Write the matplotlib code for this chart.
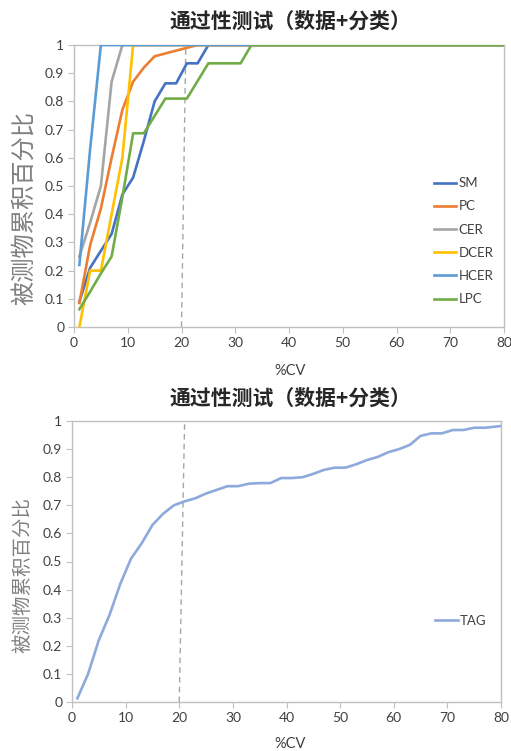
import matplotlib
matplotlib.use("Agg")
import matplotlib.pyplot as plt
import numpy as np

plt.rcParams['font.family'] = ['Lato', 'Noto Sans CJK SC', 'DejaVu Sans']

title = "通过性测试（数据+分类）"
ylabel = "被测物累积百分比"
xlabel = "%CV"

sm_x = [1, 3, 7, 9, 11, 13, 15, 17, 19, 21, 23, 25, 80]
sm_y = [0.09, 0.21, 0.33, 0.47, 0.53, 0.66, 0.80, 0.864, 0.864, 0.935, 0.935, 1.0, 1.0]

pc_x = [1, 3, 5, 7, 9, 11, 13, 15, 17, 19, 21, 23, 80]
pc_y = [0.085, 0.29, 0.42, 0.60, 0.77, 0.87, 0.92, 0.96, 0.97, 0.98, 0.99, 1.0, 1.0]

cer_x = [1, 3, 5, 7, 9, 80]
cer_y = [0.25, 0.37, 0.50, 0.87, 1.0, 1.0]

dcer_x = [1, 3, 5, 9, 11, 80]
dcer_y = [0.0, 0.2, 0.2, 0.6, 1.0, 1.0]

hcer_x = [1, 3, 5, 80]
hcer_y = [0.22, 0.63, 1.0, 1.0]

lpc_x = [1, 3, 5, 7, 9, 11, 13, 17, 21, 25, 31, 33, 80]
lpc_y = [0.063, 0.125, 0.19, 0.25, 0.46, 0.687, 0.687, 0.81, 0.81, 0.935, 0.935, 1.0, 1.0]

tag_x = [1, 3, 5, 7, 9, 11, 13, 15, 17, 19, 21, 23, 25, 27, 29, 31, 33, 35, 37, 39,
         41, 43, 45, 47, 49, 51, 53, 55, 57, 59, 61, 63, 65, 67, 69, 71, 73, 75, 77, 79, 80]
tag_y = [0.013, 0.10, 0.22, 0.31, 0.42, 0.51, 0.565, 0.63, 0.67, 0.70, 0.714, 0.725, 0.742,
         0.755, 0.768, 0.768, 0.777, 0.779, 0.779, 0.797, 0.797, 0.80, 0.812, 0.826, 0.834,
         0.834, 0.846, 0.861, 0.872, 0.889, 0.90, 0.915, 0.947, 0.956, 0.956, 0.968, 0.968,
         0.976, 0.976, 0.98, 0.982]

top_series = [
    ("SM", sm_x, sm_y, "#4472C4"),
    ("PC", pc_x, pc_y, "#ED7D31"),
    ("CER", cer_x, cer_y, "#A5A5A5"),
    ("DCER", dcer_x, dcer_y, "#FFC000"),
    ("HCER", hcer_x, hcer_y, "#5B9BD5"),
    ("LPC", lpc_x, lpc_y, "#70AD47"),
]

xticks = list(range(0, 81, 10))
yticks = [round(v * 0.1, 1) for v in range(11)]
ytick_labels = ["0" if v == 0 else ("1" if v == 1 else f"{v:.1f}") for v in yticks]

W, H = 511, 751
fig = plt.figure(figsize=(W / 100, H / 100), dpi=100)
ax1 = fig.add_axes([74/W, 1-327/H, (504-74)/W, (327-45)/H])
ax2 = fig.add_axes([72/W, 1-702/H, (501-72)/W, (702-421)/H])

spine_c = "#BFBFBF"
tick_c = "#404040"
cjk = ['Noto Sans CJK SC', 'DejaVu Sans']

def style(ax, title_y, xlabel_y, ylab_xy, ylab_size):
    ax.set_xlim(0, 80)
    ax.set_ylim(0, 1)
    ax.set_xticks(xticks)
    ax.set_yticks(yticks)
    ax.set_yticklabels(ytick_labels)
    for s in ax.spines.values():
        s.set_color(spine_c)
        s.set_linewidth(1.0)
    ax.tick_params(direction='out', length=4, color=spine_c, labelcolor=tick_c,
                   labelsize=10, pad=3)
    fig.text(290/W, 1 - title_y/H, title, fontsize=15, fontweight='bold',
             color="#262626", family=cjk, ha='center', va='center')
    fig.text(290/W, 1 - xlabel_y/H, xlabel, fontsize=10.5, color=tick_c,
             ha='center', va='center')
    fig.text(ylab_xy[0]/W, 1 - ylab_xy[1]/H, ylabel, fontsize=ylab_size,
             color="#808080", family=cjk, rotation=90, ha='center', va='center')

style(ax1, 21, 371, (24, 208), 17.5)
style(ax2, 398, 744, (23, 575), 14)

ax1.plot([20, 20.8], [0, 1], ls=(0, (4, 3)), color="#A6A6A6", lw=1.0, zorder=1)
ax2.plot([20, 21], [0, 1], ls=(0, (4, 3)), color="#A6A6A6", lw=1.0, zorder=1)

for name, xs, ys, c in top_series:
    ax1.plot(xs, ys, color=c, lw=1.9, label=name, zorder=3, solid_joinstyle='round')

ax2.plot(tag_x, tag_y, color="#8EA9DB", lw=1.9, label="TAG", zorder=3)

leg1 = ax1.legend(loc='upper left', bbox_to_anchor=(0.825, 0.55), frameon=False,
                  fontsize=9.5, handlelength=1.7, handletextpad=0.15,
                  labelspacing=0.85, borderaxespad=0)
for t in leg1.get_texts():
    t.set_color(tick_c)
leg2 = ax2.legend(loc='upper left', bbox_to_anchor=(0.835, 0.33), frameon=False,
                  fontsize=9.5, handlelength=1.7, handletextpad=0.15, borderaxespad=0)
for t in leg2.get_texts():
    t.set_color(tick_c)

fig.savefig("out.png", dpi=100)
